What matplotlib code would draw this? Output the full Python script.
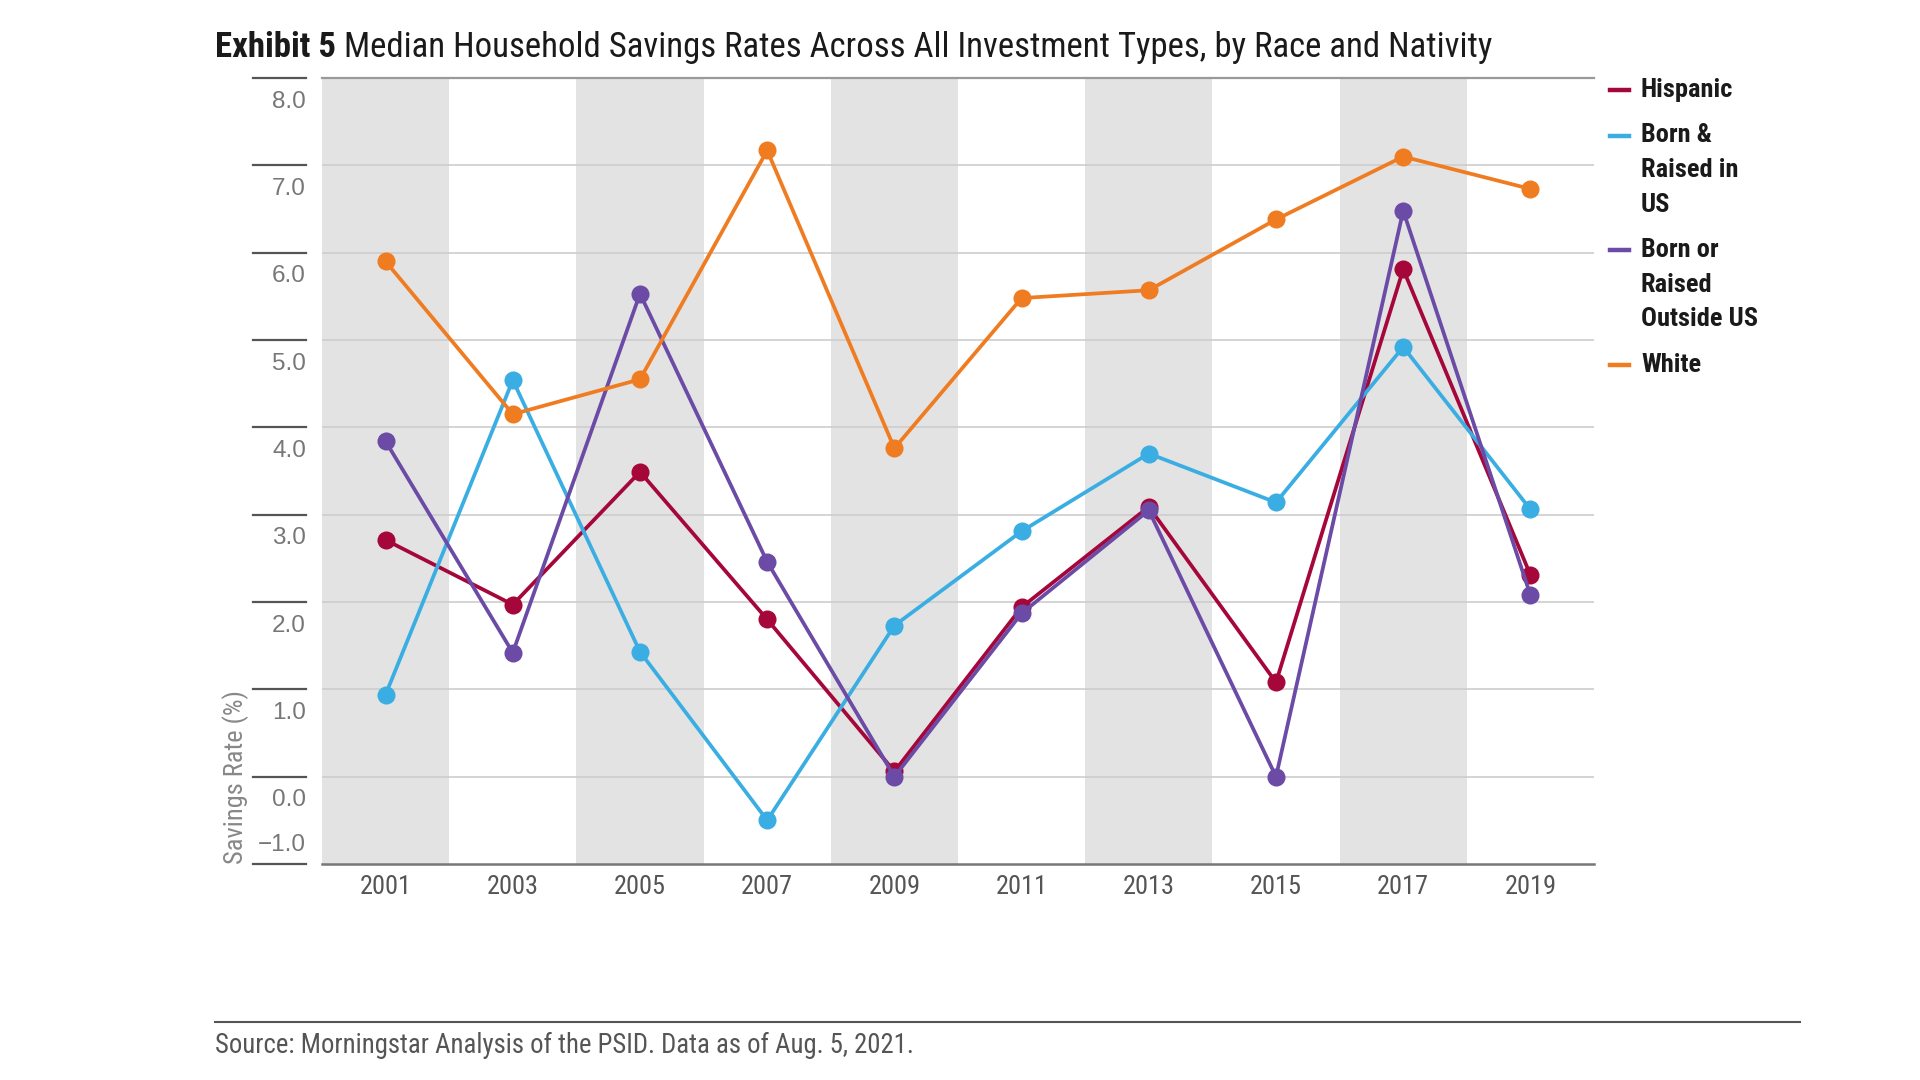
"""
Exhibit 5: median household savings rates by race and nativity.
"""

import matplotlib
matplotlib.use("Agg")
import matplotlib.pyplot as plt
from matplotlib.lines import Line2D
import matplotlib.transforms as mtransforms
from matplotlib import font_manager

# Data
years = ["2001", "2003", "2005", "2007", "2009", "2011", "2013", "2015", "2017", "2019"]
hispanic = [2.71, 1.97, 3.49, 1.80, 0.06, 1.94, 3.09, 1.08, 5.81, 2.31]
born_in_us = [0.94, 4.54, 1.43, -0.50, 1.73, 2.81, 3.70, 3.14, 4.92, 3.06]
born_outside_us = [3.84, 1.42, 5.53, 2.46, 0.00, 1.87, 3.05, 0.00, 6.48, 2.08]
white = [5.90, 4.15, 4.55, 7.17, 3.76, 5.48, 5.57, 6.38, 7.10, 6.73]

series_names = ["Hispanic", "Born &\nRaised in\nUS", "Born or\nRaised\nOutside US", "White"]
series_values = [hispanic, born_in_us, born_outside_us, white]
series_colors = ["#A6073A", "#3AAEE2", "#6B4BA5", "#F07C22"]

y_ticks = [8.0, 7.0, 6.0, 5.0, 4.0, 3.0, 2.0, 1.0, 0.0, -1.0]

title_bold = "Exhibit 5"
title_rest = " Median Household Savings Rates Across All Investment Types, by Race and Nativity"
source_text = "Source: Morningstar Analysis of the PSID. Data as of Aug. 5, 2021."
y_label = "Savings Rate (%)"

# pick a condensed face if one is installed
installed = {f.name for f in font_manager.fontManager.ttflist}
narrow_pick = [n for n in ["Roboto Condensed", "Liberation Sans Narrow", "Arial Narrow"] if n in installed]
NARROW = narrow_pick[:1] + ["Roboto", "DejaVu Sans"]
CONDENSED = bool(narrow_pick)
REGULAR = ["Liberation Sans", "DejaVu Sans"]
sz = 1.0 if CONDENSED else 0.82  # shrink text when only a normal width face is present

W, H = 1920, 1080
fig = plt.figure(figsize=(W / 100, H / 100), dpi=100)
fig.patch.set_facecolor("white")

# axes box in pixels: left 322, right 1594, top 78, bottom 864
ax = fig.add_axes([322 / W, 1 - 864 / H, (1594 - 322) / W, (864 - 78) / H])
ax.set_xlim(-0.5, len(years) - 0.5)
ax.set_ylim(min(y_ticks), max(y_ticks))

# alternating grey bands
for i in range(0, len(years), 2):
    ax.axvspan(i - 0.5, i + 0.5, color="#e3e3e3", lw=0, zorder=0)

# horizontal gridlines
for v in y_ticks[1:-1]:
    ax.axhline(v, color="#cdcdcd", lw=1.2, zorder=1)

for side in ["left", "right"]:
    ax.spines[side].set_visible(False)
ax.spines["top"].set_color("#9a9a9a")
ax.spines["top"].set_linewidth(1.6)
ax.spines["bottom"].set_color("#777777")
ax.spines["bottom"].set_linewidth(1.8)

x = list(range(len(years)))
for vals, col in zip(series_values, series_colors):
    ax.plot(x, vals, color=col, lw=2.7, marker="o", markersize=13,
            markeredgewidth=0, zorder=3, clip_on=False)

ax.set_xticks(x)
ax.set_xticklabels(years, family=NARROW, fontsize=19 * sz, color="#555555")
ax.tick_params(axis="x", length=0, pad=8)
ax.set_yticks([])

# y ticks: detached dash to the left of the plot, label sits just under it
trans = mtransforms.blended_transform_factory(ax.transAxes, ax.transData)
for v in y_ticks:
    ax.add_line(Line2D([-0.054, -0.0126], [v, v], transform=trans,
                       color="#555555", lw=1.6, clip_on=False))
    ly = max(v - 0.27, min(y_ticks) + 0.22)
    ax.text(-0.0126, ly, f"{v:.1f}".replace("-", "\u2212"), transform=trans,
            ha="right", va="center", fontsize=17.5, color="#777777", family=REGULAR)

fig.text(236 / W, 1 - 864 / H, y_label, rotation=90, ha="center", va="bottom",
         fontsize=19 * sz, color="#888888", family=NARROW)

# title: bold lead-in followed by regular text
t1 = fig.text(215 / W, 1 - 57 / H, title_bold, ha="left", va="baseline",
              fontsize=27 * sz, fontweight="bold", color="#1a1a1a", family=NARROW)
renderer = fig.canvas.get_renderer()
bb = t1.get_window_extent(renderer)
t2 = fig.text(bb.x1 / W, 1 - 57 / H, title_rest, ha="left", va="baseline",
              fontsize=27 * sz, color="#1a1a1a", family=NARROW)
# keep the title inside the 1272 px it spans in the reference
end = t2.get_window_extent(renderer).x1
if end > 1490:
    f = (1490 - 215) / (end - 215)
    t1.set_fontsize(t1.get_fontsize() * f)
    t2.set_fontsize(t2.get_fontsize() * f)
    bb = t1.get_window_extent(renderer)
    t2.set_x(bb.x1 / W)

# legend drawn by hand so the swatch lines up with the first text line
line_h = 34.5
ypix = 90
for name, col in zip(series_names, series_colors):
    fig.add_artist(Line2D([1610 / W, 1629 / W], [1 - ypix / H, 1 - ypix / H],
                          color=col, lw=3.2))
    for k, part in enumerate(name.split("\n")):
        fig.text(1641 / W, 1 - (ypix + k * line_h) / H, part, ha="left",
                 va="center", fontsize=19 * sz, fontweight="bold", color="#1a1a1a",
                 family=NARROW)
    ypix += line_h * len(name.split("\n")) + 11

# source note
fig.add_artist(Line2D([215 / W, 1800 / W], [1 - 1022 / H, 1 - 1022 / H],
                      color="#555555", lw=1.5))
fig.text(215 / W, 1 - 1045 / H, source_text, ha="left", va="center",
         fontsize=19.3 * sz, color="#555555", family=NARROW)

fig.savefig("out.png", dpi=100)
